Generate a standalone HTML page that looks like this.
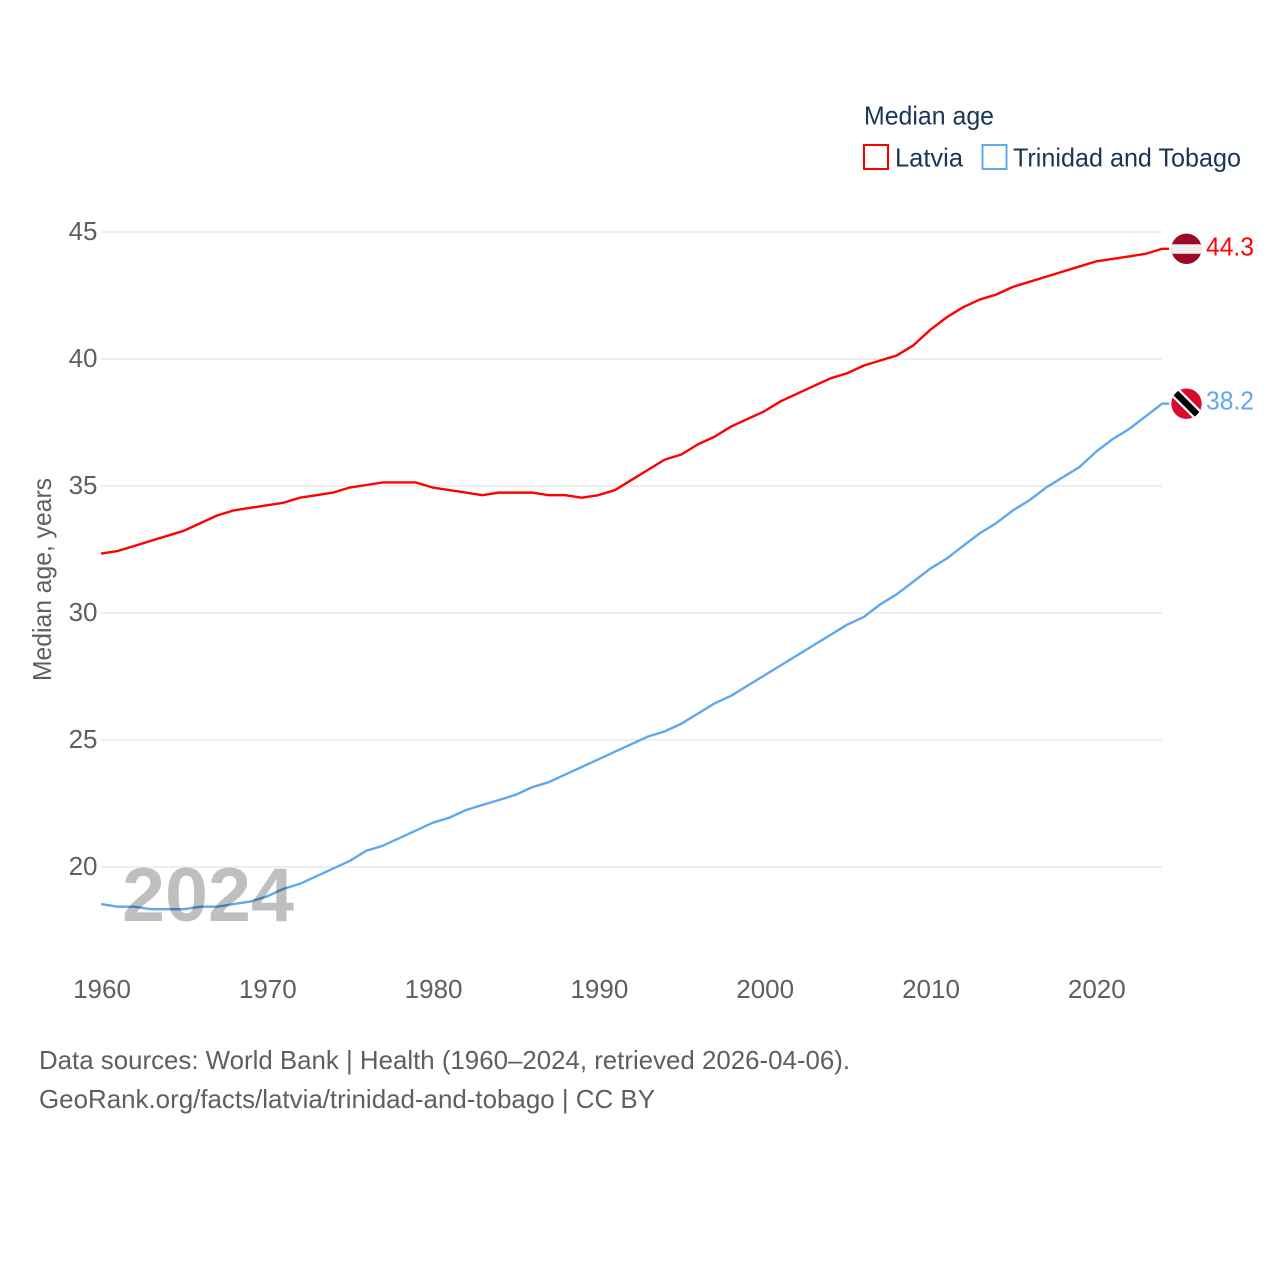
<!DOCTYPE html>
<html lang="en">
<head>
<meta charset="utf-8">
<title>Median age: Latvia and Trinidad and Tobago</title>
<style>
html,body{margin:0;padding:0;background:#fff;width:1280px;height:1280px;overflow:hidden}
svg{display:block}
text{font-family:"Liberation Sans",sans-serif;font-size:26px}
.axis{fill:#5f5f5f}
.legend{fill:#1a3557}
</style>
</head>
<body>
<svg id="chart" xmlns="http://www.w3.org/2000/svg" width="1280" height="1280" viewBox="0 0 1280 1280">
  <defs>
    <clipPath id="flag-clip-lv"><circle id="clip-lv" r="15.2"></circle></clipPath>
    <clipPath id="flag-clip-tt"><circle id="clip-tt" r="15.2"></circle></clipPath>
  </defs>
  <g id="grid"></g>
  <g id="yticks"></g>
  <g id="xticks"></g>
  <text class="axis" transform="translate(51,579.5) rotate(-90)" text-anchor="middle" textLength="203" lengthAdjust="spacingAndGlyphs">Median age, years</text>
  <g id="series"></g>
  <text x="122" y="921" textLength="172" lengthAdjust="spacingAndGlyphs" style="font-size:76px;font-weight:bold;fill:rgba(0,0,0,0.25)">2024</text>
  <g id="flags"></g>

  <g>
    <text class="legend" x="864" y="124.5" textLength="130" lengthAdjust="spacingAndGlyphs">Median age</text>
    <rect x="864" y="145" width="24" height="24" fill="#fff" stroke="#ff0000" stroke-width="2"></rect>
    <text class="legend" x="895" y="166.5" textLength="68" lengthAdjust="spacingAndGlyphs">Latvia</text>
    <rect x="982.500" y="145" width="24" height="24" fill="#fff" stroke="#5fa8ee" stroke-width="2"></rect>
    <text class="legend" x="1013" y="166.5" textLength="228" lengthAdjust="spacingAndGlyphs">Trinidad and Tobago</text>
  </g>

  <g>
    <text class="axis" x="39" y="1069" textLength="811" lengthAdjust="spacingAndGlyphs">Data sources: World Bank | Health (1960–2024, retrieved 2026-04-06).</text>
    <text class="axis" x="39" y="1108" textLength="616" lengthAdjust="spacingAndGlyphs">GeoRank.org/facts/latvia/trinidad-and-tobago | CC BY</text>
  </g>
</svg>
<script>
const startYear = 1960;
const xTickYears = [1960, 1970, 1980, 1990, 2000, 2010, 2020];
const yTickValues = [20, 25, 30, 35, 40, 45];
const latviaValues = [32.3,32.4,32.6,32.8,33.0,33.2,33.5,33.8,34.0,34.1,34.2,34.3,34.5,34.6,34.7,34.9,35.0,35.1,35.1,35.1,34.9,34.8,34.7,34.6,34.7,34.7,34.7,34.6,34.6,34.5,34.6,34.8,35.2,35.6,36.0,36.2,36.6,36.9,37.3,37.6,37.9,38.3,38.6,38.9,39.2,39.4,39.7,39.9,40.1,40.5,41.1,41.6,42.0,42.3,42.5,42.8,43.0,43.2,43.4,43.6,43.8,43.9,44.0,44.1,44.3];
const trinidadValues = [18.5,18.4,18.4,18.3,18.3,18.3,18.4,18.4,18.5,18.6,18.8,19.1,19.3,19.6,19.9,20.2,20.6,20.8,21.1,21.4,21.7,21.9,22.2,22.4,22.6,22.8,23.1,23.3,23.6,23.9,24.2,24.5,24.8,25.1,25.3,25.6,26.0,26.4,26.7,27.1,27.5,27.9,28.3,28.7,29.1,29.5,29.8,30.3,30.7,31.2,31.7,32.1,32.6,33.1,33.5,34.0,34.4,34.9,35.3,35.7,36.3,36.8,37.2,37.7,38.2];

const NS = 'http://www.w3.org/2000/svg';
function xScale(year) { return 101 + (year - 1960) * 16.58; }
function yScale(v) { return 231 + (45 - v) * (866 - 231) / 25; }
function make(tag, attrs, parent) {
  const el = document.createElementNS(NS, tag);
  for (const k in attrs) el.setAttribute(k, attrs[k]);
  parent.appendChild(el);
  return el;
}
const plotRight = xScale(2024);
const grid = document.getElementById('grid');
const yticks = document.getElementById('yticks');
const xticks = document.getElementById('xticks');
const series = document.getElementById('series');
const flags = document.getElementById('flags');

yTickValues.forEach(function (v) {
  const line = make('line', {x1: xScale(1960), x2: plotRight, y1: yScale(v) + 1, y2: yScale(v) + 1, stroke: '#dedede', 'stroke-width': 1}, grid);
  
  
  const label = make('text', {x: 97.5, y: yScale(v) + 9, 'text-anchor': 'end', 'class': 'axis'}, yticks);
  
  
  label.textContent = v;
});

xTickYears.forEach(function (yr) {
  const label = make('text', {x: xScale(yr) + 1, y: 998, 'text-anchor': 'middle', 'class': 'axis'}, xticks);
  
  
  label.textContent = yr;
});

function drawLine(values, color) {
  const pts = values.map(function (v, i) { return xScale(startYear + i).toFixed(2) + ',' + yScale(v).toFixed(2); });
  const lastY = yScale(values[values.length - 1]).toFixed(2);
  pts.push((plotRight + 7).toFixed(2) + ',' + lastY);
  return make('polyline', {points: pts.join(' '), fill: 'none', stroke: color, 'stroke-width': 2.4, 'stroke-linejoin': 'round'}, series);
}
const latviaLine = drawLine(latviaValues, '#ff0000');


const trinidadLine = drawLine(trinidadValues, '#5fa8ee');



const cx = 1186.5;
const lvY = yScale(latviaValues[latviaValues.length - 1]);
const ttY = yScale(trinidadValues[trinidadValues.length - 1]);
document.getElementById('clip-lv').setAttribute('cx', cx);
document.getElementById('clip-lv').setAttribute('cy', lvY);
document.getElementById('clip-tt').setAttribute('cx', cx);
document.getElementById('clip-tt').setAttribute('cy', ttY);

const lvFlag = make('g', {'clip-path': 'url(#flag-clip-lv)'}, flags);


make('rect', {x: cx - 16, y: lvY - 16, width: 32, height: 32, fill: '#9d0a27'}, lvFlag);
make('rect', {x: cx - 16, y: lvY - 4.5, width: 32, height: 9.5, fill: '#eeeeee'}, lvFlag);

const ttFlag = make('g', {'clip-path': 'url(#flag-clip-tt)'}, flags);


make('rect', {x: cx - 16, y: ttY - 16, width: 32, height: 32, fill: '#d80a30'}, ttFlag);
make('line', {x1: cx - 18, y1: ttY - 18, x2: cx + 18, y2: ttY + 18, stroke: '#ffffff', 'stroke-width': 11}, ttFlag);
make('line', {x1: cx - 18, y1: ttY - 18, x2: cx + 18, y2: ttY + 18, stroke: '#000000', 'stroke-width': 6.500}, ttFlag);

const lvLabel = make('text', {x: 1206, y: lvY + 6.5, textLength: 48, lengthAdjust: 'spacingAndGlyphs', fill: '#ff0000'}, flags);


lvLabel.textContent = latviaValues[latviaValues.length - 1].toFixed(1);
const ttLabel = make('text', {x: 1206, y: ttY + 6, textLength: 48, lengthAdjust: 'spacingAndGlyphs', fill: '#5fa8ee'}, flags);


ttLabel.textContent = trinidadValues[trinidadValues.length - 1].toFixed(1);
</script>
</body>
</html>
